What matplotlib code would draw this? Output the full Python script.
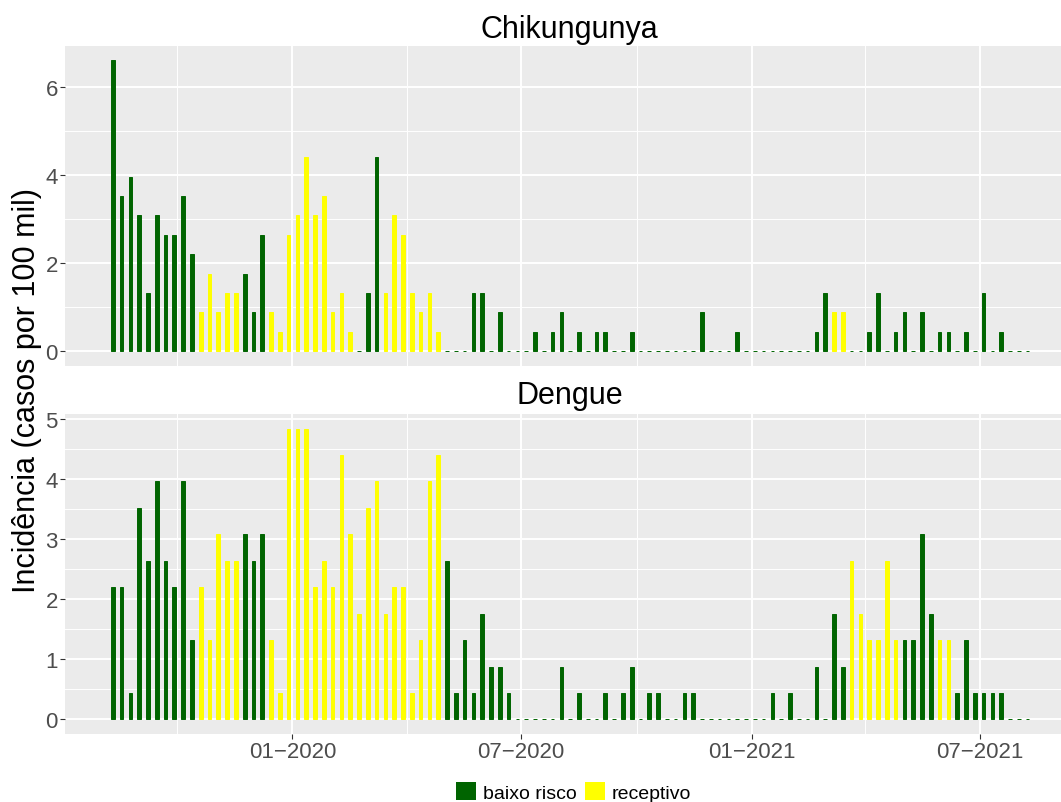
import pandas as pd
import matplotlib
matplotlib.use('Agg')
import matplotlib.pyplot as plt
import matplotlib.dates as mdates
from matplotlib.patches import Patch

plt.rcParams['font.family'] = ['Liberation Sans', 'DejaVu Sans']

# semanas epidemiologicas (inicio no domingo)
semanas = pd.date_range('2019-08-11', periods=105, freq='7D')

# incidencia semanal (casos por 100 mil)
chik = [6.6, 3.52, 3.96, 3.08, 1.32, 3.08, 2.64, 2.64, 3.52, 2.2,
        0.88, 1.76, 0.88, 1.32, 1.32, 1.76, 0.88, 2.64, 0.88, 0.44,
        2.64, 3.08, 4.4, 3.08, 3.52, 0.88, 1.32, 0.44, 0, 1.32,
        4.4, 1.32, 3.08, 2.64, 1.32, 0.88, 1.32, 0.44, 0, 0,
        0, 1.32, 1.32, 0, 0.88, 0, 0, 0, 0.44, 0,
        0.44, 0.88, 0, 0.44, 0, 0.44, 0.44, 0, 0, 0.44,
        0, 0, 0, 0, 0, 0, 0, 0.88, 0, 0,
        0, 0.44, 0, 0, 0, 0, 0, 0, 0, 0,
        0.44, 1.32, 0.88, 0.88, 0, 0, 0.44, 1.32, 0, 0.44,
        0.88, 0, 0.88, 0, 0.44, 0.44, 0, 0.44, 0, 1.32,
        0, 0.44, 0, 0, 0]

dengue = [2.2, 2.2, 0.44, 3.52, 2.64, 3.96, 2.64, 2.2, 3.96, 1.32,
          2.2, 1.32, 3.08, 2.64, 2.64, 3.08, 2.64, 3.08, 1.32, 0.44,
          4.84, 4.84, 4.84, 2.2, 2.64, 2.2, 4.4, 3.08, 1.76, 3.52,
          3.96, 1.76, 2.2, 2.2, 0.44, 1.32, 3.96, 4.4, 2.64, 0.44,
          1.32, 0.44, 1.76, 0.88, 0.88, 0.44, 0, 0, 0, 0,
          0, 0.88, 0, 0.44, 0, 0, 0.44, 0, 0.44, 0.88,
          0, 0.44, 0.44, 0, 0, 0.44, 0.44, 0, 0, 0,
          0, 0, 0, 0, 0, 0.44, 0, 0.44, 0, 0,
          0.88, 0, 1.76, 0.88, 2.64, 1.76, 1.32, 1.32, 2.64, 1.32,
          1.32, 1.32, 3.08, 1.76, 1.32, 1.32, 0.44, 1.32, 0.44, 0.44,
          0.44, 0.44, 0, 0, 0]

# semanas (1..105) classificadas como "receptivo"; as demais sao "baixo risco"
chik_receptivo = [11, 12, 13, 14, 15, 19, 20, 21, 22, 23, 24, 25, 26, 27, 28,
                  32, 33, 34, 35, 36, 37, 38, 83, 84]
dengue_receptivo = [11, 12, 13, 14, 15] + list(range(19, 39)) + \
                   [85, 86, 87, 88, 89, 90, 95, 96]

verde = '#006400'
amarelo = '#FFFF00'

W, H = 1061, 803
fig = plt.figure(figsize=(W / 100, H / 100), dpi=100)


def px_axes(l, t, r, b):
    return fig.add_axes([l / W, 1 - b / H, (r - l) / W, (b - t) / H])


ax1 = px_axes(65, 46.7, 1074, 366.7)
ax2 = px_axes(65, 415, 1074, 735)

major = pd.to_datetime(['2020-01-01', '2020-07-01', '2021-01-01', '2021-07-01'])
minor = pd.to_datetime(['2019-10-01', '2020-04-01', '2020-10-01', '2021-04-01'])
xlab = ['01\u22122020', '07\u22122020', '01\u22122021', '07\u22122021']
x = mdates.date2num(semanas)

painel = [(ax1, chik, chik_receptivo, [0, 2, 4, 6], [1, 3, 5]),
          (ax2, dengue, dengue_receptivo, [0, 1, 2, 3, 4, 5],
           [0.5, 1.5, 2.5, 3.5, 4.5])]

for ax, vals, rec, yt, ymin in painel:
    cores = [amarelo if (i + 1) in rec else verde for i in range(len(vals))]
    ax.bar(x, vals, width=2.9, color=cores, edgecolor=cores,
           linewidth=0.7, zorder=3)
    ax.set_facecolor('#EBEBEB')
    for s in ax.spines.values():
        s.set_visible(False)
    top = max(vals)
    ax.set_ylim(-0.05 * top, 1.05 * top)
    ax.set_xlim(mdates.date2num(pd.Timestamp('2019-07-04')),
                mdates.date2num(pd.Timestamp('2021-09-14')))
    ax.set_yticks(yt)
    ax.set_yticks(ymin, minor=True)
    ax.set_xticks(mdates.date2num(major))
    ax.set_xticks(mdates.date2num(minor), minor=True)
    ax.grid(which='major', color='white', linewidth=1.4, zorder=0)
    ax.grid(which='minor', color='white', linewidth=0.7, zorder=0)
    ax.set_axisbelow(True)
    ax.tick_params(which='major', length=3.6, width=0.8, color='#333333',
                   labelcolor='#4D4D4D', labelsize=16, pad=1.5)
    ax.tick_params(which='minor', length=0)

ax1.tick_params(axis='x', which='major', length=0, labelbottom=False)
ax2.set_xticklabels(xlab)

fig.text(569.7 / W, 1 - 37.7 / H, 'Chikungunya', ha='center',
         va='baseline', fontsize=22)
fig.text(569.7 / W, 1 - 404 / H, 'Dengue', ha='center',
         va='baseline', fontsize=22)
fig.text(35 / W, 1 - 391 / H, 'Incidência (casos por 100 mil)', rotation=90,
         rotation_mode='anchor', ha='center', va='baseline', fontsize=22)

handles = [Patch(facecolor=verde, label='baixo risco'),
           Patch(facecolor=amarelo, label='receptivo')]
fig.legend(handles=handles, loc='lower center',
           bbox_to_anchor=(573.5 / W, 0.0), ncol=2, frameon=False,
           fontsize=14, handlelength=1.03, handleheight=1.03,
           handletextpad=0.35, columnspacing=0.4, borderpad=0,
           borderaxespad=0)

fig.savefig('out.png', dpi=100)
